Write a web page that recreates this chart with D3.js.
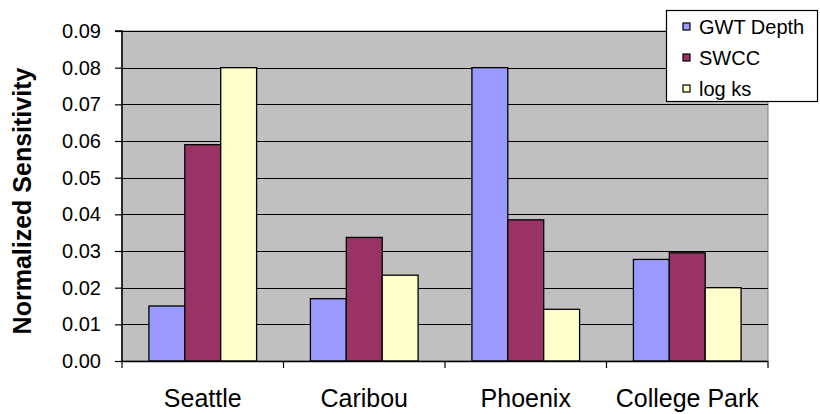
<!DOCTYPE html>
<html><head><meta charset="utf-8">
<script src="https://cdn.jsdelivr.net/npm/d3@7"></script>
<style>body{margin:0;background:#fff}svg{display:block}text{font-family:"Liberation Sans",Arial,sans-serif}</style>
</head><body><svg id="c" width="820" height="414"></svg>
<script>
const categories = ["Seattle", "Caribou", "Phoenix", "College Park"];
const seriesNames = ["GWT Depth", "SWCC", "log ks"];
const gwtDepth = [0.015, 0.017, 0.080, 0.0277];
const swcc = [0.059, 0.0337, 0.0385, 0.0295];
const logKs = [0.080, 0.0234, 0.0141, 0.020];
const yTicks = [0, 0.01, 0.02, 0.03, 0.04, 0.05, 0.06, 0.07, 0.08, 0.09];
const colors = ["#9999FF", "#993366", "#FFFFCC"];

const series = [gwtDepth, swcc, logKs];
const svg = d3.select("#c");
const L = 122, R = 768, T = 31, B = 361;

const x = d3.scaleBand().domain(categories).range([L, R]).paddingInner(0).paddingOuter(0);
const x1 = d3.scaleBand().domain(seriesNames).range([0, x.bandwidth()]).paddingOuter(0.75 / (1 - 0)).paddingInner(0);
// compute inner grouping: gap width 150% => each side 0.75 bar width
const bw = x.bandwidth() / 4.5;
const y = d3.scaleLinear().domain([0, 0.09]).range([B, T]);

svg.append("rect").attr("x", L).attr("y", T).attr("width", R - L).attr("height", B - T)
  .attr("fill", "#C0C0C0").attr("stroke", "#808080").attr("stroke-width", 1);

svg.append("g").selectAll("line").data(yTicks.slice(1)).join("line")
  .attr("x1", L).attr("x2", R).attr("y1", d => Math.round(y(d)) + 0.5).attr("y2", d => Math.round(y(d)) + 0.5)
  .attr("stroke", "#000").attr("stroke-width", 1.2);

// bars
categories.forEach((c, i) => {
  series.forEach((s, j) => {
    const x0 = x(c) + 0.75 * bw + j * bw;
    svg.append("rect").attr("x", x0).attr("y", y(s[i])).attr("width", bw).attr("height", y(0) - y(s[i]))
      .attr("fill", colors[j]).attr("stroke", "#000").attr("stroke-width", 1.3);
  });
});

// y axis
const yAxis = d3.axisLeft(y).tickValues(yTicks).tickFormat(d3.format(".2f")).tickSize(7).tickPadding(14);
const ga = svg.append("g").attr("transform", `translate(${L},0)`).call(yAxis);
ga.select(".domain").attr("stroke", "#000").attr("stroke-width", 1.5).attr("d", `M-7,${T}H0V${B}`);
ga.selectAll(".tick line").attr("stroke", "#000").attr("stroke-width", 1.2);
ga.selectAll("text").attr("font-size", 20).attr("fill", "#000").style("font-family", "Liberation Sans, Arial, sans-serif");

// x axis
const xb = d3.scaleLinear().domain([0, 4]).range([L, R]);
const gx = svg.append("g").attr("transform", `translate(0,${B})`);
gx.append("line").attr("x1", L).attr("x2", R).attr("y1", 0.5).attr("y2", 0.5).attr("stroke", "#000").attr("stroke-width", 1.5);
gx.selectAll(".bt").data(d3.range(5)).join("line").attr("class", "bt")
  .attr("x1", d => xb(d)).attr("x2", d => xb(d)).attr("y1", 0).attr("y2", 7).attr("stroke", "#000").attr("stroke-width", 1.2);
gx.selectAll(".cl").data(categories).join("text").attr("class", "cl")
  .attr("x", d => x(d) + x.bandwidth() / 2).attr("y", 46).attr("text-anchor", "middle")
  .attr("font-size", 25).attr("fill", "#000").text(d => d);

// y title
svg.append("text").attr("transform", "translate(31,201) rotate(-90)").attr("text-anchor", "middle")
  .attr("font-size", 25).attr("font-weight", "bold").attr("fill", "#000").text("Normalized Sensitivity");

// legend
const lg = svg.append("g");
lg.append("rect").attr("x", 666.5).attr("y", 10.5).attr("width", 151).attr("height", 91)
  .attr("fill", "#fff").attr("stroke", "#000").attr("stroke-width", 1.2);
const rowsY = [27, 58, 89];
seriesNames.forEach((n, j) => {
  lg.append("rect").attr("x", 683).attr("y", rowsY[j] - 4).attr("width", 7).attr("height", 7)
    .attr("fill", colors[j]).attr("stroke", "#000").attr("stroke-width", 1.2);
  lg.append("text").attr("x", 699).attr("y", rowsY[j] + 7).attr("font-size", 20).attr("fill", "#000").text(n);
});
</script></body></html>
